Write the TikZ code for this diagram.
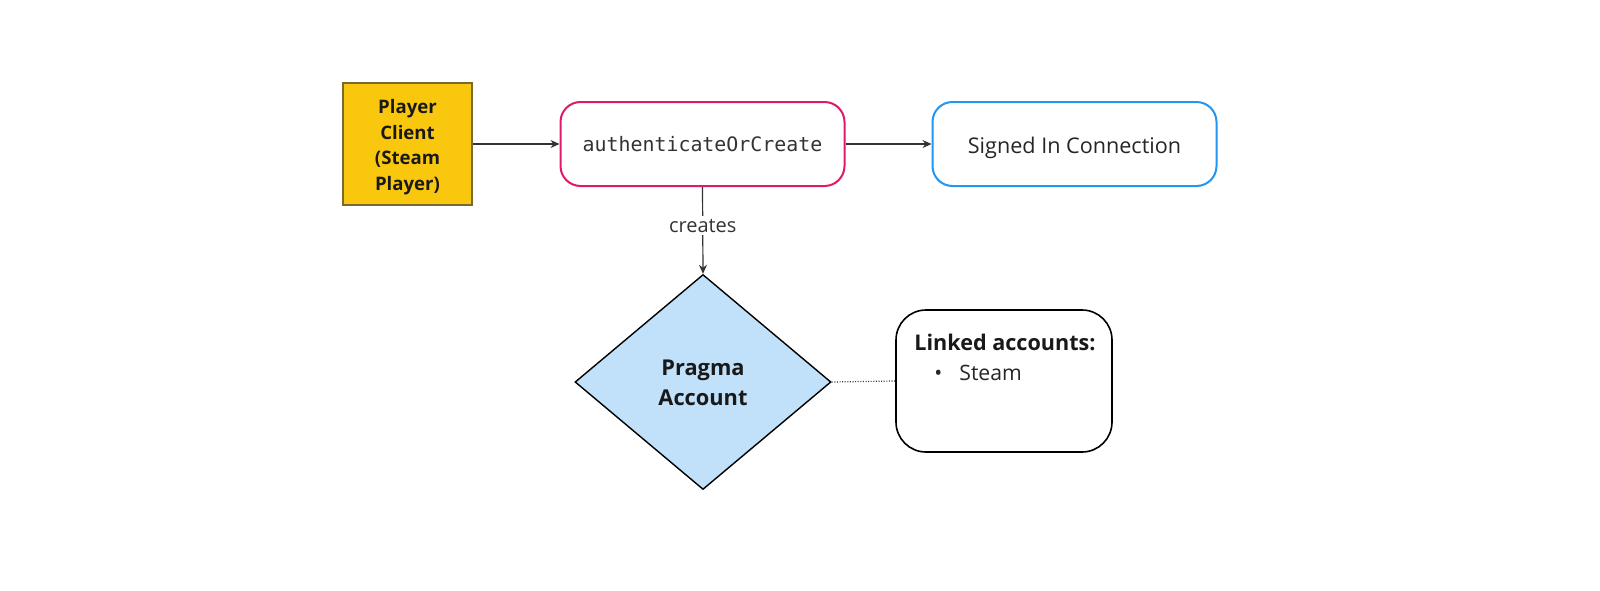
\documentclass[tikz,border=0pt]{standalone}
\usepackage{fontspec}
\setmainfont{Open Sans}
\newfontfamily\codefont{DejaVu Sans Mono}
\usetikzlibrary{shapes.geometric,arrows.meta}
\definecolor{clientyellow}{HTML}{F9C80E}
\definecolor{clientborder}{HTML}{7A6A30}
\definecolor{authpink}{HTML}{E0196A}
\definecolor{signblue}{HTML}{2196F3}
\definecolor{acctblue}{HTML}{C0E1F9}
\definecolor{linkgray}{HTML}{333333}
\newcommand{\lowertext}[2]{\raisebox{-#1}[\height][\depth]{\begin{tabular}{@{}c@{}}#2\end{tabular}}}
\tikzset{
  clientbox/.style={draw=clientborder, fill=clientyellow, line width=0.6pt, minimum width=64.5pt, minimum height=61pt, inner sep=0pt, align=center, font=\fontsize{9.3}{12.75}\selectfont\bfseries, text=black!90},
  roundbox/.style={draw, line width=1pt, rounded corners=10pt, minimum width=142pt, minimum height=42pt, inner sep=0pt, align=center},
  acctdiamond/.style={diamond, draw=black, fill=acctblue, line width=0.7pt, minimum width=128pt, minimum height=107.5pt, inner sep=0pt, align=center, font=\fontsize{10.9}{14.6}\selectfont\bfseries, text=black!90},
  notebox/.style={draw=black, line width=0.8pt, rounded corners=15pt, minimum width=108pt, minimum height=71pt, inner sep=0pt},
  flow/.style={draw=linkgray, line width=0.6pt, -{Stealth[length=4.5pt,width=4pt]}},
  edgelabel/.style={fill=white, inner sep=1.5pt, font=\fontsize{10}{12}\selectfont, text=black!80}
}
\begin{document}
\begin{tikzpicture}[x=0.5pt,y=-0.5pt]
\useasboundingbox[fill=white] (0,0) rectangle (1600,590);
\node[clientbox] (client) at (407.5,144) {\lowertext{1.5pt}{Player\\Client\\(Steam\\Player)}};
\node[roundbox, draw=authpink, font=\codefont\fontsize{9.95}{12}\selectfont, text=black!80] (auth) at (702.5,144) {authenticateOrCreate};
\node[roundbox, draw=signblue, font=\fontsize{10.8}{12}\selectfont, text=black!85] (signed) at (1074.5,144) {\raisebox{-2pt}[\height][\depth]{Signed In Connection}};
\node[acctdiamond] (acct) at (703,382) {\lowertext{1.3pt}{Pragma\\Account}};
\node[notebox] (linked) at (1004,381) {};
\node[anchor=north, inner sep=0pt, font=\fontsize{10.8}{12}\selectfont\bfseries, text=black!90] (linkedtitle) at (1005,334) {Linked accounts:};
\node[anchor=north west, inner sep=0pt, font=\fontsize{10.6}{12}\selectfont, text=black!85] (linkedsteam) at (934,365) {\textbullet\hspace{8.5pt}Steam};
\draw[flow] (client) -- (auth);
\draw[flow] (auth) -- (signed);
\draw[flow] (auth.south) -- node[edgelabel, pos=0.445] {creates} (acct.north);
\draw[line width=0.6pt, draw=black!80, dash pattern=on 0.5pt off 0.8pt] (acct.east) -- (linked.west);
\end{tikzpicture}
\end{document}
